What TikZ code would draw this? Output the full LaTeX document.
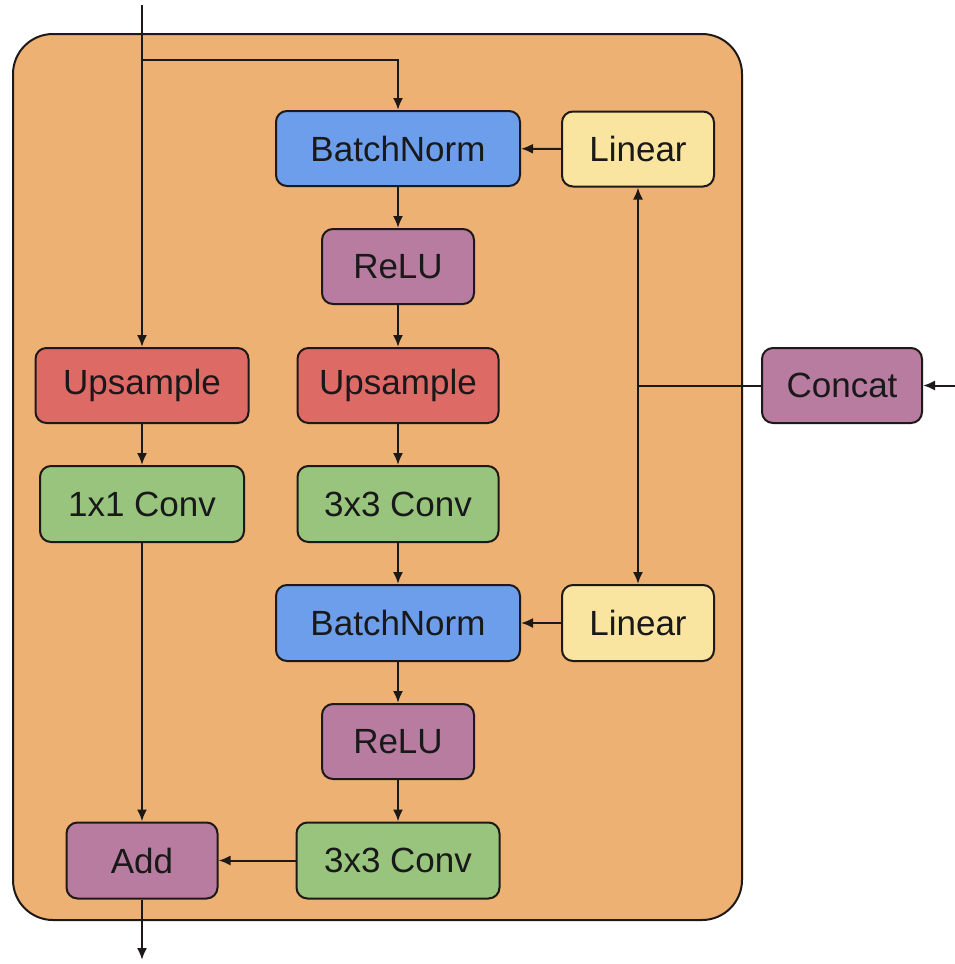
\documentclass[tikz,border=0pt]{standalone}
\usepackage{fontspec}
\setmainfont{Liberation Sans}
\usetikzlibrary{arrows.meta}
\definecolor{bgorange}{RGB}{236,177,115}
\definecolor{bnblue}{RGB}{109,158,235}
\definecolor{upred}{RGB}{222,106,102}
\definecolor{convgreen}{RGB}{152,196,125}
\definecolor{opurple}{RGB}{183,124,160}
\definecolor{linyellow}{RGB}{250,229,160}
\definecolor{edge}{RGB}{30,25,25}
\tikzset{
  blk/.style={draw=edge, line width=2pt, rounded corners=11pt, inner sep=0pt,
    minimum height=75pt, font=\fontsize{35}{40}\selectfont, text=black!90},
  bn/.style={blk, fill=bnblue, minimum width=244pt},
  lin/.style={blk, fill=linyellow, minimum width=152pt},
  relu/.style={blk, fill=opurple, minimum width=152pt},
  ups/.style={blk, fill=upred},
  conv/.style={blk, fill=convgreen},
  arr/.style={draw=edge, line width=2pt, -{Latex[length=12pt,width=10pt]}},
  ln/.style={draw=edge, line width=2pt},
}
\begin{document}
\begin{tikzpicture}[x=1pt,y=-1pt]
\useasboundingbox (0,0) rectangle (955,964);
\draw[draw=edge, line width=2pt, fill=bgorange, rounded corners=40pt] (13,34) rectangle (742,920);

\node[bn] (bn1) at (398,148.5) {BatchNorm};
\node[lin] (lin1) at (638,149) {Linear};
\node[relu] (relu1) at (398,266.5) {ReLU};
\node[ups, minimum width=213pt] (upl) at (142,385.5) {Upsample};
\node[ups, minimum width=201pt] (upm) at (398,385.5) {Upsample};
\node[conv, minimum width=204pt, minimum height=76pt] (conv1) at (142,504) {1x1 Conv};
\node[conv, minimum width=201pt, minimum height=76pt] (conv3a) at (398,504) {3x3 Conv};
\node[bn, minimum height=76pt] (bn2) at (398,623) {BatchNorm};
\node[lin, minimum height=76pt] (lin2) at (638,623) {Linear};
\node[relu] (relu2) at (398,741.5) {ReLU};
\node[relu, minimum width=151pt, minimum height=76pt] (add) at (142,860.5) {Add};
\node[conv, minimum width=203pt, minimum height=76pt] (conv3b) at (398,860.5) {3x3 Conv};
\node[relu, minimum width=160pt] (concat) at (842,385.5) {Concat};

\coordinate (in) at (142,5);
\coordinate (br) at (142,60);
\coordinate (out) at (142,960);
\coordinate (cin) at (955,385.5);
\coordinate (j) at (638,385.5);

\draw[arr] (in) -- (upl.north);
\draw[arr] (br) -| (bn1.north);
\draw[arr] (bn1) -- (relu1);
\draw[arr] (relu1) -- (upm);
\draw[arr] (upm) -- (conv3a);
\draw[arr] (conv3a) -- (bn2);
\draw[arr] (bn2) -- (relu2);
\draw[arr] (relu2) -- (conv3b);
\draw[arr] (conv3b) -- (add);
\draw[arr] (upl) -- (conv1);
\draw[arr] (conv1) -- (add);
\draw[arr] (add.south) -- (out);
\draw[arr] (lin1) -- (bn1);
\draw[arr] (lin2) -- (bn2);
\draw[arr] (cin) -- (concat.east);
\draw[ln] (concat.west) -- (j);
\draw[arr] (j) -- (lin1.south);
\draw[arr] (j) -- (lin2.north);
\end{tikzpicture}
\end{document}
